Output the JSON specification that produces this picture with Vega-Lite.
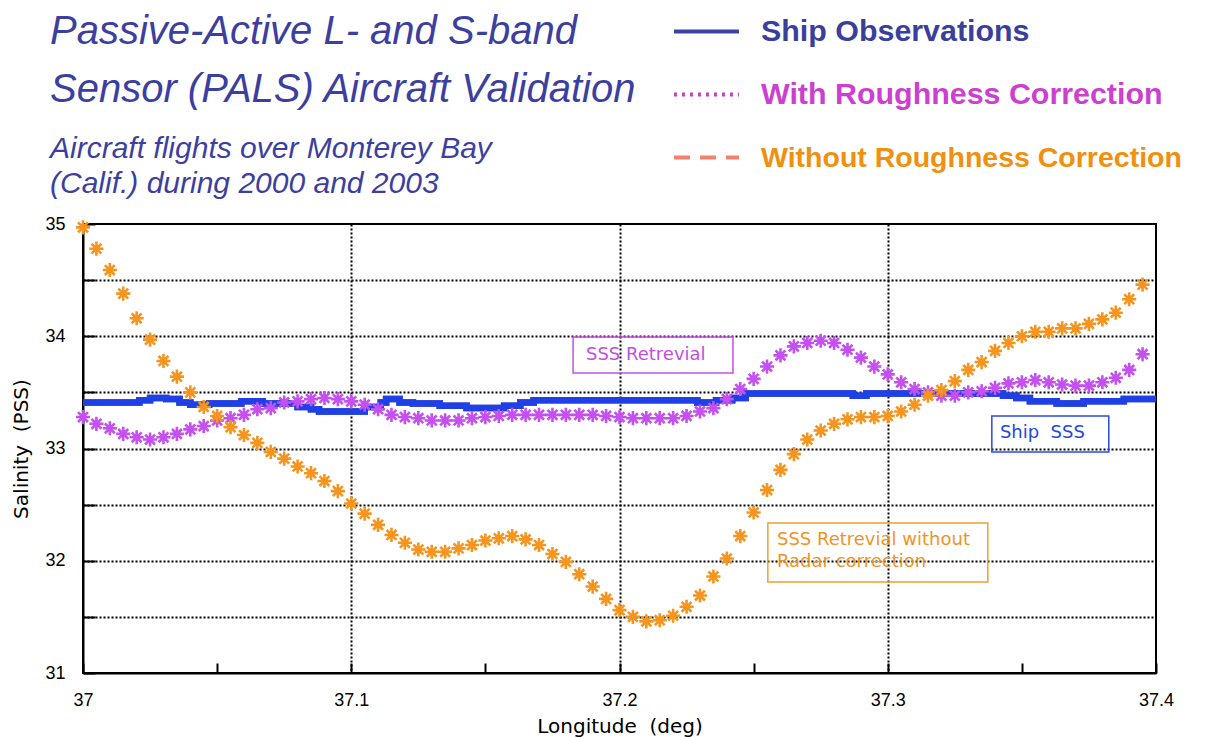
{
  "$schema": "https://vega.github.io/schema/vega-lite/v6.json",
  "width": 1073,
  "height": 449,
  "autosize": "none",
  "padding": {"left": 83, "top": 224, "right": 59, "bottom": 64},
  "background": "white",
  "title": {
    "text": ["Passive-Active L- and S-band", "Sensor (PALS) Aircraft Validation"],
    "subtitle": ["Aircraft flights over Monterey Bay", "(Calif.) during 2000 and 2003"],
    "anchor": "start",
    "frame": "group",
    "dx": -33,
    "dy": 228,
    "font": "Liberation Sans",
    "fontSize": 40,
    "fontStyle": "italic",
    "fontWeight": "normal",
    "color": "#3c3f9f",
    "lineHeight": 58,
    "subtitleFont": "Liberation Sans",
    "subtitleFontSize": 30,
    "subtitleFontStyle": "italic",
    "subtitleColor": "#3c3f9f",
    "subtitleLineHeight": 35,
    "subtitlePadding": 24,
    "offset": 26
  },
  "config": {
    "view": {"stroke": "black", "strokeWidth": 2},
    "axis": {
      "domainColor": "black",
      "domainWidth": 2,
      "gridColor": "#000000",
      "gridDash": [2, 2],
      "gridWidth": 2,
      "tickColor": "black",
      "tickWidth": 2,
      "labelColor": "black",
      "titleColor": "black",
      "labelFont": "Liberation Sans",
      "labelFontSize": 18,
      "titleFont": "DejaVu Sans",
      "titleFontSize": 20,
      "titleFontWeight": "normal"
    }
  },
  "datasets": {
    "ship": [
      {"lon": 37.000, "sss": 33.41, "series": "Ship Observations"},
      {"lon": 37.021, "sss": 33.43, "series": "Ship Observations"},
      {"lon": 37.025, "sss": 33.45, "series": "Ship Observations"},
      {"lon": 37.031, "sss": 33.44, "series": "Ship Observations"},
      {"lon": 37.036, "sss": 33.41, "series": "Ship Observations"},
      {"lon": 37.040, "sss": 33.39, "series": "Ship Observations"},
      {"lon": 37.047, "sss": 33.40, "series": "Ship Observations"},
      {"lon": 37.059, "sss": 33.42, "series": "Ship Observations"},
      {"lon": 37.067, "sss": 33.40, "series": "Ship Observations"},
      {"lon": 37.080, "sss": 33.37, "series": "Ship Observations"},
      {"lon": 37.085, "sss": 33.35, "series": "Ship Observations"},
      {"lon": 37.088, "sss": 33.33, "series": "Ship Observations"},
      {"lon": 37.105, "sss": 33.37, "series": "Ship Observations"},
      {"lon": 37.111, "sss": 33.41, "series": "Ship Observations"},
      {"lon": 37.113, "sss": 33.44, "series": "Ship Observations"},
      {"lon": 37.118, "sss": 33.41, "series": "Ship Observations"},
      {"lon": 37.123, "sss": 33.40, "series": "Ship Observations"},
      {"lon": 37.133, "sss": 33.38, "series": "Ship Observations"},
      {"lon": 37.143, "sss": 33.36, "series": "Ship Observations"},
      {"lon": 37.157, "sss": 33.38, "series": "Ship Observations"},
      {"lon": 37.163, "sss": 33.41, "series": "Ship Observations"},
      {"lon": 37.168, "sss": 33.43, "series": "Ship Observations"},
      {"lon": 37.229, "sss": 33.41, "series": "Ship Observations"},
      {"lon": 37.236, "sss": 33.43, "series": "Ship Observations"},
      {"lon": 37.242, "sss": 33.45, "series": "Ship Observations"},
      {"lon": 37.247, "sss": 33.49, "series": "Ship Observations"},
      {"lon": 37.287, "sss": 33.47, "series": "Ship Observations"},
      {"lon": 37.292, "sss": 33.49, "series": "Ship Observations"},
      {"lon": 37.343, "sss": 33.47, "series": "Ship Observations"},
      {"lon": 37.348, "sss": 33.45, "series": "Ship Observations"},
      {"lon": 37.353, "sss": 33.42, "series": "Ship Observations"},
      {"lon": 37.363, "sss": 33.40, "series": "Ship Observations"},
      {"lon": 37.373, "sss": 33.42, "series": "Ship Observations"},
      {"lon": 37.388, "sss": 33.44, "series": "Ship Observations"},
      {"lon": 37.400, "sss": 33.44, "series": "Ship Observations"}
    ],
    "retrievals": [
      {"lon": 37.000, "with": 33.28, "without": 34.97},
      {"lon": 37.005, "with": 33.22, "without": 34.78},
      {"lon": 37.010, "with": 33.18, "without": 34.59},
      {"lon": 37.015, "with": 33.13, "without": 34.38},
      {"lon": 37.020, "with": 33.10, "without": 34.16},
      {"lon": 37.025, "with": 33.08, "without": 33.97},
      {"lon": 37.030, "with": 33.10, "without": 33.78},
      {"lon": 37.035, "with": 33.13, "without": 33.64},
      {"lon": 37.040, "with": 33.17, "without": 33.50},
      {"lon": 37.045, "with": 33.20, "without": 33.37},
      {"lon": 37.050, "with": 33.25, "without": 33.29},
      {"lon": 37.055, "with": 33.27, "without": 33.19},
      {"lon": 37.060, "with": 33.30, "without": 33.12},
      {"lon": 37.065, "with": 33.35, "without": 33.05},
      {"lon": 37.070, "with": 33.36, "without": 32.97},
      {"lon": 37.075, "with": 33.41, "without": 32.91},
      {"lon": 37.080, "with": 33.42, "without": 32.84},
      {"lon": 37.085, "with": 33.44, "without": 32.78},
      {"lon": 37.090, "with": 33.45, "without": 32.71},
      {"lon": 37.095, "with": 33.44, "without": 32.62},
      {"lon": 37.100, "with": 33.42, "without": 32.51},
      {"lon": 37.105, "with": 33.39, "without": 32.42},
      {"lon": 37.110, "with": 33.35, "without": 32.32},
      {"lon": 37.115, "with": 33.30, "without": 32.23},
      {"lon": 37.120, "with": 33.28, "without": 32.16},
      {"lon": 37.125, "with": 33.27, "without": 32.10},
      {"lon": 37.130, "with": 33.25, "without": 32.08},
      {"lon": 37.135, "with": 33.25, "without": 32.08},
      {"lon": 37.140, "with": 33.25, "without": 32.11},
      {"lon": 37.145, "with": 33.27, "without": 32.14},
      {"lon": 37.150, "with": 33.28, "without": 32.18},
      {"lon": 37.155, "with": 33.29, "without": 32.20},
      {"lon": 37.160, "with": 33.30, "without": 32.22},
      {"lon": 37.165, "with": 33.30, "without": 32.19},
      {"lon": 37.170, "with": 33.30, "without": 32.14},
      {"lon": 37.175, "with": 33.30, "without": 32.06},
      {"lon": 37.180, "with": 33.30, "without": 31.99},
      {"lon": 37.185, "with": 33.30, "without": 31.88},
      {"lon": 37.190, "with": 33.30, "without": 31.77},
      {"lon": 37.195, "with": 33.29, "without": 31.66},
      {"lon": 37.200, "with": 33.28, "without": 31.56},
      {"lon": 37.205, "with": 33.27, "without": 31.50},
      {"lon": 37.210, "with": 33.27, "without": 31.46},
      {"lon": 37.215, "with": 33.27, "without": 31.47},
      {"lon": 37.220, "with": 33.27, "without": 31.51},
      {"lon": 37.225, "with": 33.29, "without": 31.59},
      {"lon": 37.230, "with": 33.33, "without": 31.69},
      {"lon": 37.235, "with": 33.36, "without": 31.86},
      {"lon": 37.240, "with": 33.44, "without": 32.02},
      {"lon": 37.245, "with": 33.53, "without": 32.22},
      {"lon": 37.250, "with": 33.62, "without": 32.43},
      {"lon": 37.255, "with": 33.73, "without": 32.63},
      {"lon": 37.260, "with": 33.83, "without": 32.81},
      {"lon": 37.265, "with": 33.91, "without": 32.95},
      {"lon": 37.270, "with": 33.94, "without": 33.08},
      {"lon": 37.275, "with": 33.96, "without": 33.16},
      {"lon": 37.280, "with": 33.94, "without": 33.22},
      {"lon": 37.285, "with": 33.88, "without": 33.26},
      {"lon": 37.290, "with": 33.81, "without": 33.28},
      {"lon": 37.295, "with": 33.73, "without": 33.28},
      {"lon": 37.300, "with": 33.66, "without": 33.29},
      {"lon": 37.305, "with": 33.59, "without": 33.33},
      {"lon": 37.310, "with": 33.53, "without": 33.39},
      {"lon": 37.315, "with": 33.50, "without": 33.47},
      {"lon": 37.320, "with": 33.47, "without": 33.52},
      {"lon": 37.325, "with": 33.47, "without": 33.60},
      {"lon": 37.330, "with": 33.50, "without": 33.70},
      {"lon": 37.335, "with": 33.51, "without": 33.77},
      {"lon": 37.340, "with": 33.54, "without": 33.87},
      {"lon": 37.345, "with": 33.58, "without": 33.94},
      {"lon": 37.350, "with": 33.59, "without": 34.00},
      {"lon": 37.355, "with": 33.61, "without": 34.04},
      {"lon": 37.360, "with": 33.59, "without": 34.04},
      {"lon": 37.365, "with": 33.57, "without": 34.07},
      {"lon": 37.370, "with": 33.56, "without": 34.07},
      {"lon": 37.375, "with": 33.56, "without": 34.11},
      {"lon": 37.380, "with": 33.59, "without": 34.15},
      {"lon": 37.385, "with": 33.63, "without": 34.21},
      {"lon": 37.390, "with": 33.70, "without": 34.33},
      {"lon": 37.395, "with": 33.84, "without": 34.46}
    ]
  },
  "layer": [
    {
      "data": {"name": "ship"},
      "mark": {"type": "line", "interpolate": "step-after", "strokeWidth": 6.5, "clip": true},
      "encoding": {
        "x": {
          "field": "lon",
          "type": "quantitative",
          "scale": {"domain": [37, 37.4], "nice": false, "zero": false},
          "axis": {
            "title": "Longitude\u00a0 (deg)",
            "values": [37, 37.05, 37.1, 37.15, 37.2, 37.25, 37.3, 37.35, 37.4],
            "format": ".1~f",
            "labelExpr": "abs(datum.value * 10 - round(datum.value * 10)) < 0.000001 ? datum.label : ''",
            "gridOpacity": {"condition": {"test": "abs(datum.value * 10 - round(datum.value * 10)) < 0.000001 && datum.value > 37.01 && datum.value < 37.39", "value": 1}, "value": 0},
            "tickSize": -10,
            "labelPadding": 28,
            "labelFlush": false,
            "titlePadding": 7
          }
        },
        "y": {
          "field": "sss",
          "type": "quantitative",
          "scale": {"domain": [31, 35], "nice": false, "zero": false},
          "axis": {
            "title": "Salinity\u00a0 (PSS)",
            "values": [31, 31.5, 32, 32.5, 33, 33.5, 34, 34.5, 35],
            "format": ".1~f",
            "labelExpr": "datum.value % 1 === 0 ? datum.label : ''",
            "gridOpacity": {"condition": {"test": "datum.value > 31.1 && datum.value < 34.9", "value": 1}, "value": 0},
            "tickSize": -12,
            "labelPadding": 30,
            "labelFlush": false,
            "titlePadding": 13
          }
        },
        "color": {
          "field": "series",
          "type": "nominal",
          "scale": {
            "domain": ["Ship Observations", "With Roughness Correction", "Without Roughness Correction"],
            "range": ["#3a44a8", "#c845c8", "#f4806e"]
          },
          "legend": {
            "orient": "none",
            "legendX": 589,
            "legendY": -227,
            "title": null,
            "padding": 0,
            "symbolType": "stroke",
            "symbolSize": 4225,
            "symbolStrokeWidth": 4,
            "labelFont": "Liberation Sans",
            "labelFontSize": 28,
            "labelFontWeight": "bold",
            "labelOffset": 20,
            "labelLimit": 700,
            "rowPadding": 13,
            "encode": {
              "symbols": {
                "update": {
                  "strokeDash": {"signal": "datum.value === 'With Roughness Correction' ? [3, 5] : datum.value === 'Without Roughness Correction' ? [16, 10] : [1, 0]"}
                }
              },
              "labels": {
                "update": {
                  "fill": {"signal": "datum.value === 'Ship Observations' ? '#3b3f9c' : datum.value === 'With Roughness Correction' ? '#cc3fcf' : '#f0900f'"},
                  "fontSize": {"signal": "datum.value === 'Without Roughness Correction' ? 28.5 : 30.4"}
                }
              }
            }
          }
        }
      }
    },
    {
      "data": {"name": "ship"},
      "mark": {"type": "line", "interpolate": "step-after", "strokeWidth": 6.5, "stroke": "#1f40e6", "clip": true},
      "encoding": {
        "x": {"field": "lon", "type": "quantitative"},
        "y": {"field": "sss", "type": "quantitative"}
      }
    },
    {
      "data": {"name": "retrievals"},
      "mark": {"type": "point", "shape": "M-1,0L1,0M0,-1L0,1M-0.7,-0.7L0.7,0.7M-0.7,0.7L0.7,-0.7", "filled": false, "stroke": "#c450f0", "strokeWidth": 2.6, "size": 200, "opacity": 1},
      "encoding": {
        "x": {"field": "lon", "type": "quantitative"},
        "y": {"field": "with", "type": "quantitative"}
      }
    },
    {
      "data": {"name": "retrievals"},
      "mark": {"type": "point", "shape": "M-1,0L1,0M0,-1L0,1M-0.7,-0.7L0.7,0.7M-0.7,0.7L0.7,-0.7", "filled": false, "stroke": "#f5951f", "strokeWidth": 2.6, "size": 200, "opacity": 1},
      "encoding": {
        "x": {"field": "lon", "type": "quantitative"},
        "y": {"field": "without", "type": "quantitative"}
      }
    },
    {
      "data": {"values": [{"x1": 37.1827, "x2": 37.2423, "y1": 33.993, "y2": 33.673}]},
      "mark": {"type": "rect", "fill": null, "fillOpacity": 0, "stroke": "#c850e0", "strokeWidth": 1.5},
      "encoding": {
        "x": {"field": "x1", "type": "quantitative"},
        "x2": {"field": "x2"},
        "y": {"field": "y1", "type": "quantitative"},
        "y2": {"field": "y2"}
      }
    },
    {
      "data": {"values": [{"x1": 37.3388, "x2": 37.3824, "y1": 33.29, "y2": 32.969}]},
      "mark": {"type": "rect", "fill": null, "fillOpacity": 0, "stroke": "#2a4ae6", "strokeWidth": 1.5},
      "encoding": {
        "x": {"field": "x1", "type": "quantitative"},
        "x2": {"field": "x2"},
        "y": {"field": "y1", "type": "quantitative"},
        "y2": {"field": "y2"}
      }
    },
    {
      "data": {"values": [{"x1": 37.2553, "x2": 37.3373, "y1": 32.336, "y2": 31.811}]},
      "mark": {"type": "rect", "fill": null, "fillOpacity": 0, "stroke": "#f0a030", "strokeWidth": 1.5},
      "encoding": {
        "x": {"field": "x1", "type": "quantitative"},
        "x2": {"field": "x2"},
        "y": {"field": "y1", "type": "quantitative"},
        "y2": {"field": "y2"}
      }
    },
    {
      "data": {"values": [{"lon": 37.1875, "sss": 33.833, "label": "SSS Retrevial"}]},
      "mark": {"type": "text", "align": "left", "baseline": "middle", "font": "DejaVu Sans", "fontSize": 18, "color": "#c24fe0"},
      "encoding": {
        "x": {"field": "lon", "type": "quantitative"},
        "y": {"field": "sss", "type": "quantitative"},
        "text": {"field": "label"}
      }
    },
    {
      "data": {"values": [{"lon": 37.3418, "sss": 33.138, "label": "Ship\u00a0 SSS"}]},
      "mark": {"type": "text", "align": "left", "baseline": "middle", "font": "DejaVu Sans", "fontSize": 18, "color": "#2447e0"},
      "encoding": {
        "x": {"field": "lon", "type": "quantitative"},
        "y": {"field": "sss", "type": "quantitative"},
        "text": {"field": "label"}
      }
    },
    {
      "data": {"values": [
        {"lon": 37.2587, "sss": 32.185, "label": "SSS Retrevial without"},
        {"lon": 37.2587, "sss": 31.989, "label": "Radar correction"}
      ]},
      "mark": {"type": "text", "align": "left", "baseline": "middle", "font": "DejaVu Sans", "fontSize": 18, "color": "#f0941f"},
      "encoding": {
        "x": {"field": "lon", "type": "quantitative"},
        "y": {"field": "sss", "type": "quantitative"},
        "text": {"field": "label"}
      }
    }
  ]
}
